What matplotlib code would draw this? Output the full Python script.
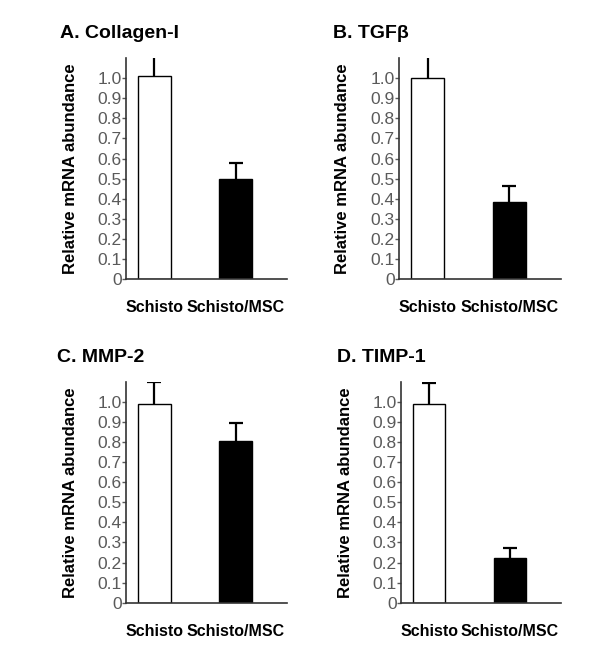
import numpy as np
import matplotlib.pyplot as plt

plt.rcParams['font.family'] = ['Liberation Sans', 'DejaVu Sans']

groups = ['Schisto', 'Schisto/MSC']
titles = ['A. Collagen-I', 'B. TGFβ', 'C. MMP-2', 'D. TIMP-1']
means = [[1.01, 0.50], [1.00, 0.385], [0.99, 0.805], [0.99, 0.224]]
errs = [[0.11, 0.08], [0.115, 0.078], [0.11, 0.092], [0.105, 0.048]]
yticks = [0, 0.1, 0.2, 0.3, 0.4, 0.5, 0.6, 0.7, 0.8, 0.9, 1.0]
ytick_labels = ['0', '0.1', '0.2', '0.3', '0.4', '0.5', '0.6', '0.7', '0.8', '0.9', '1.0']

fig = plt.figure(figsize=(6, 6.48), dpi=100)

# axes rectangles [left, bottom, width, height] and title positions, in figure fractions
boxes = [[0.21, 0.5694, 0.268, 0.341],
         [0.665, 0.5694, 0.27, 0.341],
         [0.21, 0.0699, 0.268, 0.341],
         [0.668, 0.0699, 0.267, 0.341]]
title_pos = [(0.10, 0.949), (0.555, 0.949), (0.095, 0.449), (0.562, 0.449)]

for i in range(4):
    ax = fig.add_axes(boxes[i])
    x = np.arange(len(groups))
    m = np.array(means[i])
    e = np.array(errs[i])
    ax.bar(x, m, width=0.4, color=['white', 'black'], edgecolor='black', linewidth=1, zorder=2)
    # upper error only, cap at the top
    ax.vlines(x, m, m + e, color='black', linewidth=1.6, zorder=1)
    ax.plot(x, m + e, ls='none', marker='_', markersize=10, markeredgewidth=1.6, color='black', zorder=1)
    ax.set_xlim(-0.35, 1.63)
    ax.set_ylim(0, 1.1)
    ax.set_yticks(yticks)
    ax.set_yticklabels(ytick_labels, fontsize=12.5, color='#5a5a5a')
    ax.set_xticks(x)
    ax.set_xticklabels(groups, fontsize=11.5, fontweight='bold')
    ax.tick_params(axis='x', length=0, pad=15)
    ax.tick_params(axis='y', length=3, width=1, color='#5a5a5a', pad=0)
    ax.spines['top'].set_visible(False)
    ax.spines['right'].set_visible(False)
    ax.spines['left'].set_color('#333333')
    ax.spines['bottom'].set_color('#333333')
    ax.spines['left'].set_linewidth(1.2)
    ax.spines['bottom'].set_linewidth(1.2)
    ax.set_ylabel('Relative mRNA abundance', fontsize=12, fontweight='bold')
    ax.yaxis.set_label_coords(-0.30, 0.5)
    fig.text(title_pos[i][0], title_pos[i][1], titles[i], fontsize=14, fontweight='bold',
             ha='left', va='center')

plt.savefig('out.png', dpi=100)
